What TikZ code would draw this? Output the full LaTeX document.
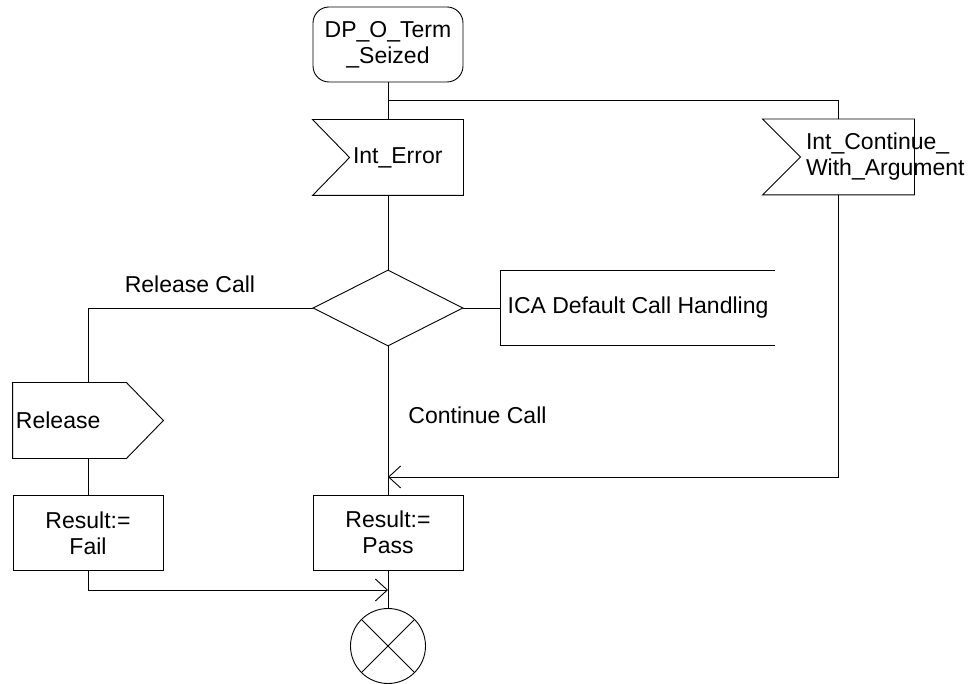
\documentclass[tikz,border=0pt]{standalone}
\usepackage{fontspec}
\setmainfont{Liberation Sans}
\usetikzlibrary{shapes.geometric,arrows.meta,positioning,calc}

\begin{document}
\begin{tikzpicture}[x=1pt, y=-1pt, line width=0.9pt,
  every node/.style={font=\fontsize{23}{26}\selectfont, inner sep=0pt},
  task/.style={draw, minimum width=150pt, minimum height=75pt, align=center},
  startbox/.style={task, rounded corners=16pt},
  sigbox/.style={minimum width=150pt, minimum height=75pt},
  decide/.style={draw, diamond, minimum width=150pt, minimum height=76pt},
  stopbox/.style={draw, circle, minimum size=75pt, path picture={
    \draw (path picture bounding box.north west) -- (path picture bounding box.south east)
          (path picture bounding box.north east) -- (path picture bounding box.south west);}},
  flow/.style={-{Straight Barb[length=12pt,width=22pt]}}]
  \useasboundingbox (0,0) rectangle (977,684);

  % States of the procedure
  \node[startbox] (start) at (388,44.5) {DP\_O\_Term\\\_Seized};
  \coordinate (br) at (388,100);
  \node[sigbox, label={[anchor=west,xshift=40pt]west:Int\_Error}] (ierr) at (388,157.5) {};
  \node[sigbox, minimum width=151pt, label={[anchor=west,xshift=43pt,align=left]west:Int\_Continue\_\\With\_Argument}] (icont) at (838.5,157) {};
  \node[decide] (dec) at (388,308) {};
  \node[minimum width=274pt, minimum height=75pt] (ica) at (638,308) {ICA Default Call Handling};
  \node[sigbox, label={[anchor=west,xshift=3pt]west:Release}] (rel) at (88,420.5) {};
  \node[task] (fail) at (88,533) {Result:=\\Fail};
  \node[task] (pass) at (388,532.5) {Result:=\\Pass};
  \node[stopbox] (stop) at (388,646) {};
  \coordinate (cj) at (388,477);
  \coordinate (fj) at (388,590);

  % Outlines of the signals and the open box
  \draw (ierr.north west) -- (ierr.north east) -- (ierr.south east) -- (ierr.south west) -- ([xshift=37pt]ierr.west) -- cycle;
  \draw (icont.north west) -- (icont.north east) -- (icont.south east) -- (icont.south west) -- ([xshift=38pt]icont.west) -- cycle;
  \draw (rel.north west) -- ([xshift=-37pt]rel.north east) -- (rel.east) -- ([xshift=-37pt]rel.south east) -- (rel.south west) -- cycle;
  \draw (ica.north east) -- (ica.north west) -- (ica.south west) -- (ica.south east);

  % Connectors
  \draw (start) -- (ierr);
  \draw (br) -| (icont);
  \draw (ierr) -- (dec);
  \draw (dec.east) -- (ica.west);
  \draw (dec.west) -| node[pos=0.273, above=15pt] {Release Call} (rel.north);
  \draw (rel) -- (fail);
  \draw (dec.south) -- node[pos=0.466, right=20pt] {Continue Call} (pass.north);
  \draw[flow] (icont) |- (cj);
  \draw (pass) -- (stop);
  \draw[flow] (fail) |- (fj);
\end{tikzpicture}
\end{document}
